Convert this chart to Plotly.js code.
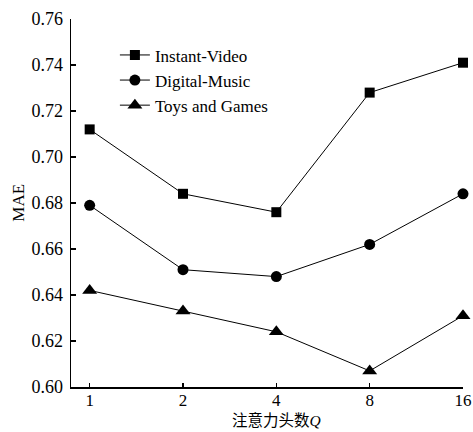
<!DOCTYPE html>
<html>
<head>
<meta charset="utf-8">
<script src="https://cdn.plot.ly/plotly-3.0.1.min.js"></script>
<style>
  html, body { margin: 0; padding: 0; background: #fff; }
  #chart { width: 473px; height: 432px; }
</style>
</head>
<body>
<div id="chart"></div>
<script>
// Number of attention heads Q (categorical axis)
const heads = ['1', '2', '4', '8', '16'];

// MAE per dataset
const instantVideo = [0.712, 0.684, 0.676, 0.728, 0.741];
const digitalMusic = [0.679, 0.651, 0.648, 0.662, 0.684];
const toysGames    = [0.642, 0.633, 0.624, 0.607, 0.631];

const seriesNames = ['Instant-Video', 'Digital-Music', 'Toys and Games'];

const serif = 'Liberation Serif, DejaVu Serif, serif';

function line(name, y, symbol, size) {
  return {
    x: heads, y: y, name: name,
    type: 'scatter', mode: 'lines+markers',
    line: { color: '#000', width: 1 },
    marker: { symbol: symbol, size: size, color: '#000' },
    cliponaxis: false
  };
}

const data = [
  line(seriesNames[0], instantVideo, 'square', 10),
  line(seriesNames[1], digitalMusic, 'circle', 11),
  line(seriesNames[2], toysGames, 'triangle-up', 13)
];

const axisCommon = {
  showline: true, linecolor: '#000', linewidth: 1.5,
  ticks: 'inside', tickcolor: '#000', tickwidth: 1.2,
  showgrid: false, zeroline: false
};

const layout = {
  width: 473, height: 432,
  margin: { l: 71, r: 10, t: 19, b: 45 },
  paper_bgcolor: '#fff', plot_bgcolor: '#fff',
  font: { family: serif, size: 17, color: '#000' },
  showlegend: true,
  legend: {
    x: 0.112, y: 0.95, xanchor: 'left', yanchor: 'top',
    bgcolor: 'rgba(0,0,0,0)',
    font: { family: serif, size: 17, color: '#000' },
    tracegroupgap: 0, itemwidth: 30
  },
  xaxis: Object.assign({}, axisCommon, {
    type: 'category', range: [-0.2, 4],
    ticklen: 4, ticklabelstandoff: -3,
    tickfont: { family: serif, size: 17, color: '#000' }
  }),
  yaxis: Object.assign({}, axisCommon, {
    range: [0.60, 0.76], dtick: 0.02, tickformat: '.2f',
    ticklen: 5, ticklabelstandoff: 3,
    tickfont: { family: serif, size: 18, color: '#000' }
  }),
  annotations: [
    {
      // x-axis title: number of attention heads
      text: '<span style="font-family:Noto Sans CJK SC">注意力头数</span><i>Q</i>',
      xref: 'paper', yref: 'paper', x: 0.5255, y: -0.119,
      xanchor: 'center', yanchor: 'bottom', showarrow: false, borderpad: 0,
      font: { family: serif, size: 15.5, color: '#000' }
    },
    {
      text: 'MAE', textangle: -90,
      xref: 'paper', yref: 'paper', x: -0.136, y: 0.5,
      xanchor: 'center', yanchor: 'middle', showarrow: false,
      font: { family: serif, size: 17, color: '#000' }
    }
  ]
};

Plotly.newPlot('chart', data, layout, { displayModeBar: false, staticPlot: true });
</script>
</body>
</html>
